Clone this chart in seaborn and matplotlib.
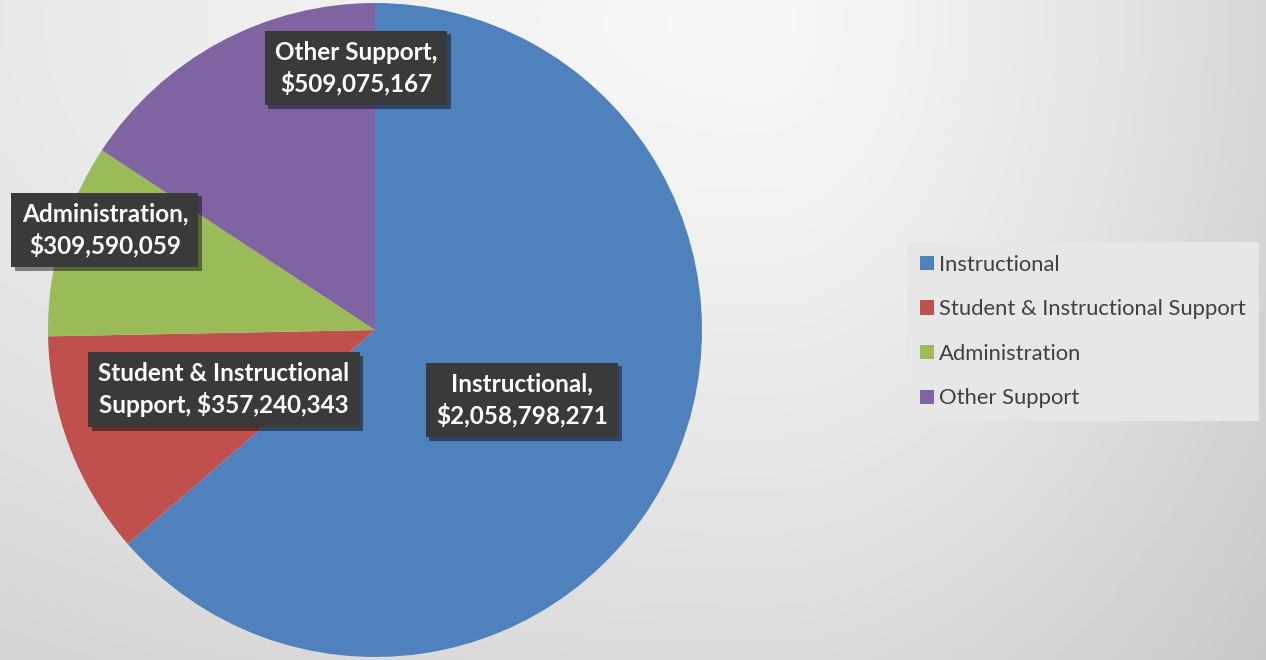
import textwrap

import numpy as np
import matplotlib
matplotlib.use("Agg")
import matplotlib.pyplot as plt
import matplotlib.patheffects as pe
import seaborn as sns

# Expenditure by function
categories = ["Instructional", "Student & Instructional Support",
              "Administration", "Other Support"]
amounts = [2058798271, 357240343, 309590059, 509075167]
palette = ["#4F81BD", "#C0504D", "#9BBB59", "#8064A2"]

# Label anchors, in pie-radius units relative to the pie centre
label_anchor = [(0.45, -0.214), (-0.462, -0.183), (-0.826, 0.306), (-0.058, 0.801)]

sns.set_theme(style="white")
plt.rcParams["font.family"] = ["Lato", "DejaVu Sans"]

W, H = 1266, 660
fig = plt.figure(figsize=(W / 100, H / 100), dpi=100)

# Soft grey backdrop, brightest near the top centre
bg_ax = fig.add_axes([0, 0, 1, 1], zorder=-5)
yy, xx = np.mgrid[0:H, 0:W]
dx = xx - 760.0
sx = np.where(dx < 0, 40.0, 14.9)
r = np.sqrt((dx / sx) ** 2 + ((yy - 20.0) / 20.9) ** 2)
shade = 247 - 47.0 * (r / 45.7) ** 1.3
bg_ax.imshow(np.clip(shade, 0, 255) / 255.0, cmap="gray", vmin=0, vmax=1,
             extent=(0, W, H, 0), aspect="auto", interpolation="bilinear")
bg_ax.set_axis_off()

# Pie: centre (375, 330) px, radius 327 px
cx, cy, R = 375, 330, 327
ax = fig.add_axes([(cx - R) / W, (H - cy - R) / H, 2 * R / W, 2 * R / H])
wedges, _ = ax.pie(amounts, colors=palette, startangle=90, counterclock=False,
                   radius=1.0, wedgeprops=dict(linewidth=0))
ax.set_xlim(-1, 1)
ax.set_ylim(-1, 1)
ax.set_aspect("equal")
ax.set_axis_off()

for name, value, (lx, ly) in zip(categories, amounts, label_anchor):
    txt = textwrap.fill(f"{name}, ${value:,}", width=23)
    t = ax.text(lx, ly, txt, ha="center", va="center", color="white",
                fontsize=17.5, fontweight="bold", linespacing=1.32,
                bbox=dict(boxstyle="square,pad=0.42", fc="#3a3a3a", ec="none"),
                zorder=5)
    t.get_bbox_patch().set_path_effects(
        [pe.SimplePatchShadow(offset=(2.5, -2.5), shadow_rgbFace="black", alpha=0.45),
         pe.Normal()])

leg = fig.legend(wedges, categories, loc="upper left",
                 bbox_to_anchor=(907 / W, 1 - 242 / H), borderaxespad=0,
                 frameon=True, fancybox=False, facecolor="#e7e7e7",
                 edgecolor="none", framealpha=1, fontsize=15.8,
                 handlelength=0.63, handleheight=0.63, handletextpad=0.25,
                 labelspacing=1.12, borderpad=0.58)
for text in leg.get_texts():
    text.set_color("#404040")

fig.savefig("out.png", dpi=100)
